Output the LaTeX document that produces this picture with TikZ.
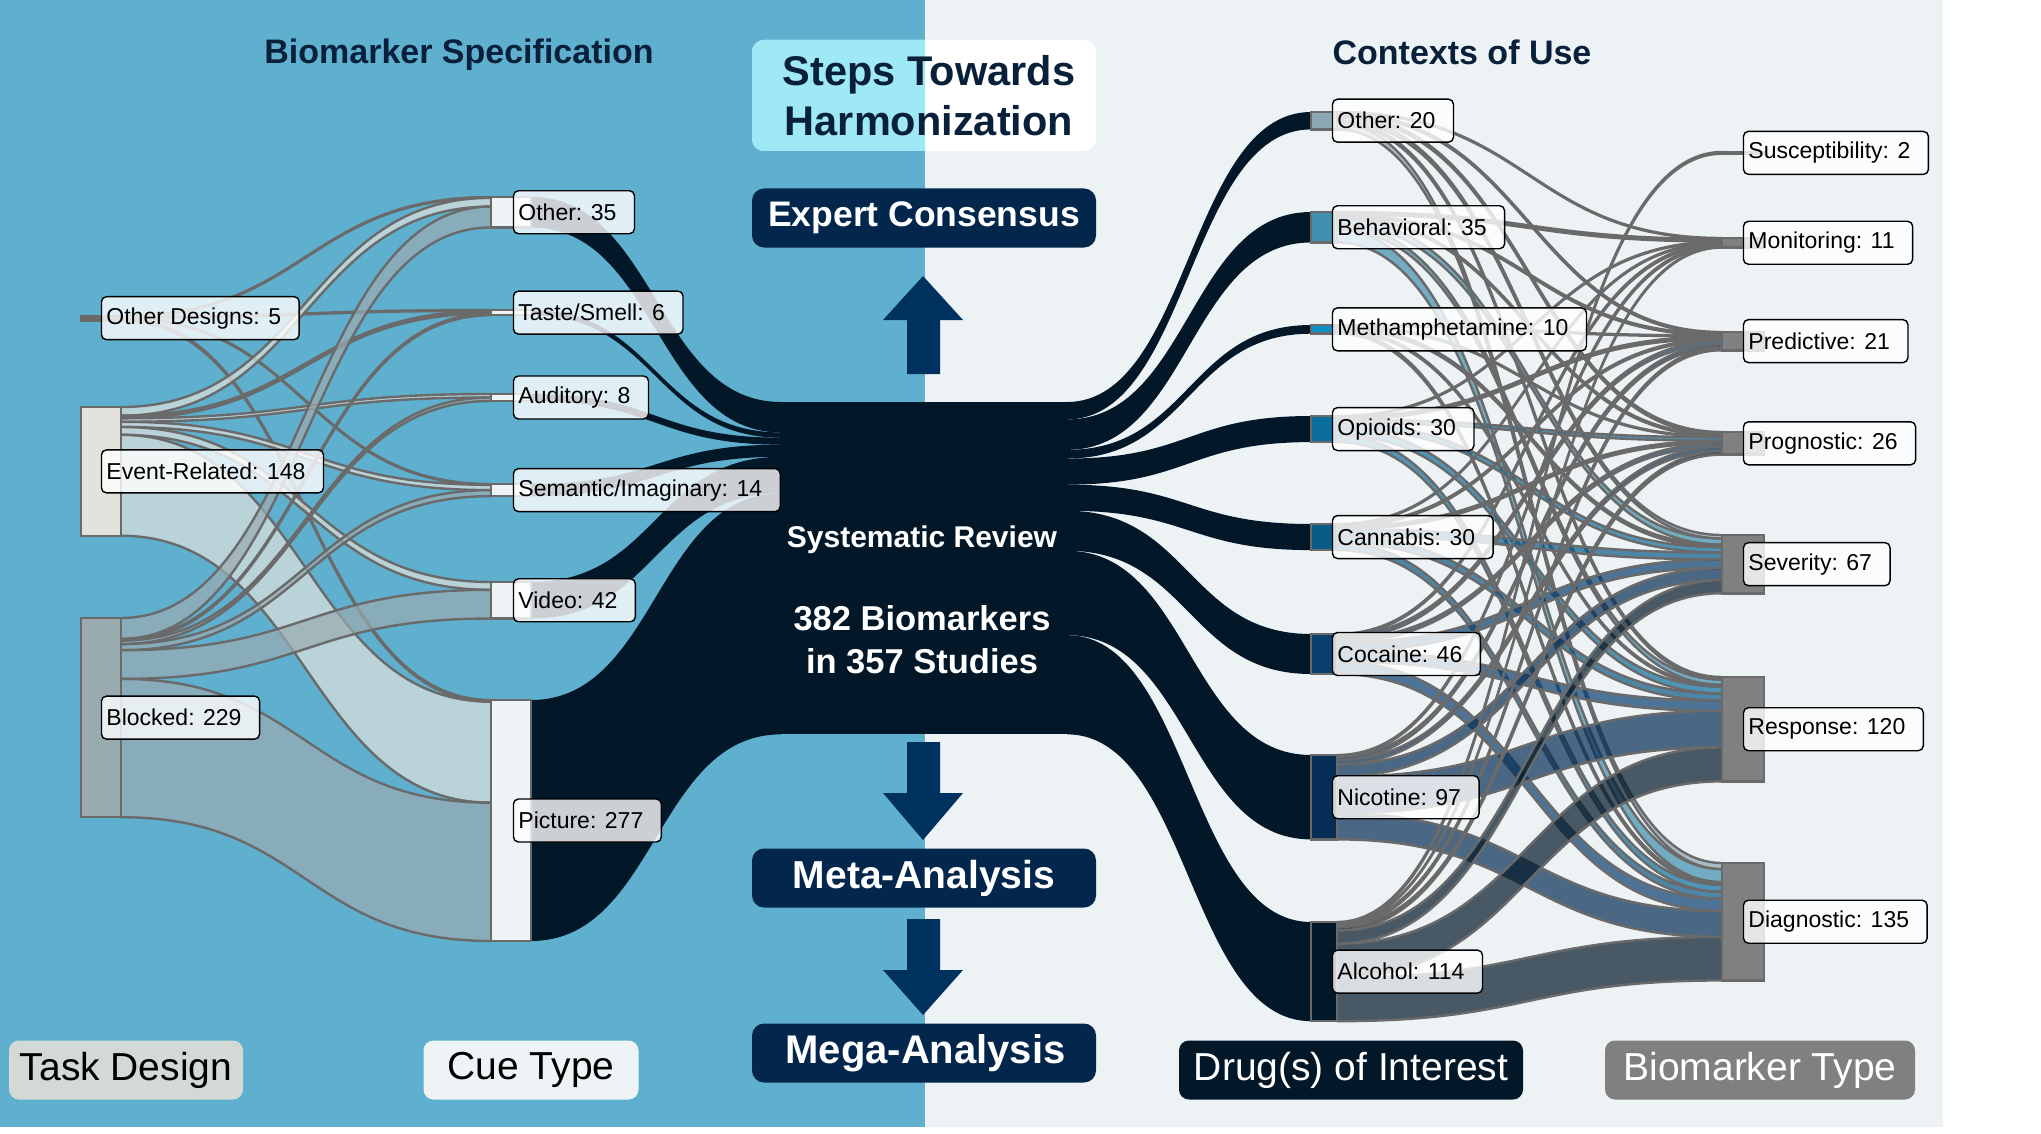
\documentclass[tikz,border=0pt]{standalone}
\usepackage{fontspec}
\setmainfont{Liberation Sans}
\usetikzlibrary{positioning}

\definecolor{bgblue}{HTML}{5FB0CF}
\definecolor{bglight}{HTML}{EDF2F5}
\definecolor{navy}{HTML}{021829}
\definecolor{arrowblue}{HTML}{00325F}
\definecolor{boxblue}{HTML}{03274C}
\definecolor{titleblue}{HTML}{08203A}
\definecolor{stepcyan}{HTML}{9FE8F5}
\definecolor{edgegray}{HTML}{6A6A6A}
\definecolor{barerel}{HTML}{E2E3DD}
\definecolor{barblock}{HTML}{9AABB0}
\definecolor{barcue}{HTML}{EEF3F5}
\definecolor{taskgray}{HTML}{D3DAD6}
\definecolor{drugoth}{HTML}{8EA7B4}
\definecolor{drugbeh}{HTML}{3F8FAE}
\definecolor{drugmeth}{HTML}{0E93C9}
\definecolor{drugopi}{HTML}{0B6E9E}
\definecolor{drugcan}{HTML}{0A5A88}
\definecolor{drugcoc}{HTML}{0A3F70}
\definecolor{drugnic}{HTML}{062D55}
\definecolor{drugalc}{HTML}{021829}
\definecolor{typegray}{HTML}{808080}

% node columns: name/top/value/colour
\def\tasklist{od/316/5/edgegray, er/407/148/barerel, bl/618/229/barblock}
\def\cuelist{coth/197/35/barcue, ctas/310/6/barcue, caud/394/8/barcue, csem/484/14/barcue, cvid/582/42/barcue, cpic/700/277/barcue}
\def\druglist{doth/112/20/drugoth, dbeh/212/35/drugbeh, dmet/325/10/drugmeth, dopi/416/30/drugopi, dcan/524/30/drugcan, dcoc/634/46/drugcoc, dnic/755/97/drugnic, dalc/922/114/drugalc}
\def\typelist{tsus/152/2/typegray, tmon/238/11/typegray, tpre/332/21/typegray, tpro/432/26/typegray, tsev/535/67/typegray, tres/677/120/typegray, tdia/863/135/typegray}

\newcommand\settop[2]{\expandafter\xdef\csname sk-#1\endcsname{#2}}
\newcommand\gettop[1]{\csname sk-#1\endcsname}

% band from (x1,y1) to (x2,y2), width w
\newcommand\skband[6]{%
  \pgfmathsetmacro\bxm{(#1+#3)/2}%
  \pgfmathsetmacro\bya{#2+#5}%
  \pgfmathsetmacro\byb{#4+#5}%
  \fill[#6] (#1,#2) .. controls (\bxm,#2) and (\bxm,#4) .. (#3,#4)
    -- (#3,\byb) .. controls (\bxm,\byb) and (\bxm,\bya) .. (#1,\bya) -- cycle;}
\newcommand\skedge[5]{%
  \pgfmathsetmacro\bxm{(#1+#3)/2}%
  \pgfmathsetmacro\bya{#2+#5}%
  \pgfmathsetmacro\byb{#4+#5}%
  \draw[linkline] (#1,#2) .. controls (\bxm,#2) and (\bxm,#4) .. (#3,#4)
    (#1,\bya) .. controls (\bxm,\bya) and (\bxm,\byb) .. (#3,\byb);}

\begin{document}
\begin{tikzpicture}[x=1pt, y=-1pt,
    tag/.style={draw=black, line width=1.4pt, rounded corners=5pt, fill=white,
      fill opacity=0.8, text opacity=1, minimum height=43pt, inner xsep=5pt,
      font=\fontsize{23}{27}\selectfont, execute at end node=\kern13pt},
    bar/.style={draw=edgegray, line width=2.5pt, inner sep=0pt, minimum width=#1},
    linkline/.style={draw=edgegray, line width=2.4pt},
    stepbox/.style={fill=boxblue, rounded corners=12pt, minimum width=344pt,
      minimum height=59pt, text=white, font=\bfseries\fontsize{35.5}{40}\selectfont},
    axisbox/.style={rounded corners=10pt, minimum height=59pt,
      font=\fontsize{39}{44}\selectfont},
    heading/.style={text=titleblue, font=\bfseries\fontsize{34}{40}\selectfont, anchor=base}]

  \useasboundingbox (0,0) rectangle (2041,1134);
  \fill[white] (0,0) rectangle (2041,1134);
  \fill[bgblue] (0,0) rectangle (925,1127);
  \fill[bglight] (925,0) rectangle (1943,1127);

  % stacking tops
  \foreach \nm/\tp/\val/\col in \tasklist {\settop{\nm}{\tp}}
  \foreach \nm/\tp/\val/\col in \cuelist {\settop{\nm}{\tp}}
  \foreach \nm/\tp/\val/\col in \druglist {\settop{\nm}{\tp}}
  \foreach \nm/\tp/\val/\col in \typelist {\settop{\nm}{\tp}}

  % task design -> cue type
  \foreach \src/\tgt/\val/\col in {od/coth/1/edgegray, od/ctas/1/edgegray, od/csem/1/edgegray, od/cpic/2/edgegray,
      er/coth/10/barerel, er/ctas/3/barerel, er/caud/4/barerel, er/csem/6/barerel, er/cvid/9/barerel, er/cpic/116/barerel,
      bl/coth/24/barblock, bl/ctas/2/barblock, bl/caud/4/barblock, bl/csem/7/barblock, bl/cvid/33/barblock, bl/cpic/159/barblock}{
    \pgfmathsetmacro\ya{\gettop{\src}}
    \pgfmathsetmacro\yb{\gettop{\tgt}}
    \pgfmathsetmacro\bw{\val*0.87}
    \skband{121}{\ya}{491}{\yb}{\bw}{fill=\col, fill opacity=0.7}
    \skedge{121}{\ya}{491}{\yb}{\bw}
    \pgfmathsetmacro\ya{\ya+\bw}\settop{\src}{\ya}
    \pgfmathsetmacro\yb{\yb+\bw}\settop{\tgt}{\yb}
  }

  % cue type -> systematic review -> drug
  \settop{cl}{402}
  \foreach \nm/\tp/\val/\col in \cuelist{
    \pgfmathsetmacro\yb{\gettop{cl}}
    \pgfmathsetmacro\bw{\val*0.87}
    \skband{531}{\tp}{781}{\yb}{\bw}{navy}
    \pgfmathsetmacro\yb{\yb+\bw}\settop{cl}{\yb}
  }
  \fill[navy] (780,402) rectangle (1068,734.4);
  \settop{cr}{402}
  \foreach \nm/\tp/\val/\col in \druglist{
    \pgfmathsetmacro\ya{\gettop{cr}}
    \pgfmathsetmacro\bw{\val*0.87}
    \skband{1067}{\ya}{1311}{\tp}{\bw}{navy}
    \pgfmathsetmacro\ya{\ya+\bw}\settop{cr}{\ya}
  }

  % drug -> biomarker type
  \foreach \src/\tgt/\val/\col in {doth/tmon/1/drugoth, doth/tpre/2/drugoth, doth/tpro/3/drugoth, doth/tsev/4/drugoth, doth/tres/3/drugoth, doth/tdia/7/drugoth,
      dbeh/tmon/3/drugbeh, dbeh/tpre/2/drugbeh, dbeh/tpro/2/drugbeh, dbeh/tsev/7/drugbeh, dbeh/tres/6/drugbeh, dbeh/tdia/15/drugbeh,
      dmet/tpre/1/drugmeth, dmet/tpro/1/drugmeth, dmet/tsev/3/drugmeth, dmet/tres/2/drugmeth, dmet/tdia/3/drugmeth,
      dopi/tmon/1/drugopi, dopi/tpre/3/drugopi, dopi/tpro/4/drugopi, dopi/tsev/6/drugopi, dopi/tres/8/drugopi, dopi/tdia/8/drugopi,
      dcan/tmon/1/drugcan, dcan/tpre/2/drugcan, dcan/tpro/3/drugcan, dcan/tsev/8/drugcan, dcan/tres/8/drugcan, dcan/tdia/8/drugcan,
      dcoc/tmon/2/drugcoc, dcoc/tpre/4/drugcoc, dcoc/tpro/4/drugcoc, dcoc/tsev/10/drugcoc, dcoc/tres/12/drugcoc, dcoc/tdia/14/drugcoc,
      dnic/tmon/2/drugnic, dnic/tpre/4/drugnic, dnic/tpro/5/drugnic, dnic/tsev/14/drugnic, dnic/tres/42/drugnic, dnic/tdia/30/drugnic,
      dalc/tsus/2/drugalc, dalc/tmon/1/drugalc, dalc/tpre/3/drugalc, dalc/tpro/4/drugalc, dalc/tsev/15/drugalc, dalc/tres/39/drugalc, dalc/tdia/50/drugalc}{
    \pgfmathsetmacro\ya{\gettop{\src}}
    \pgfmathsetmacro\yb{\gettop{\tgt}}
    \pgfmathsetmacro\bw{\val*0.87}
    \skband{1337}{\ya}{1722}{\yb}{\bw}{fill=\col, fill opacity=0.7}
    \skedge{1337}{\ya}{1722}{\yb}{\bw}
    \pgfmathsetmacro\ya{\ya+\bw}\settop{\src}{\ya}
    \pgfmathsetmacro\yb{\yb+\bw}\settop{\tgt}{\yb}
  }

  % bars
  \foreach \nm/\tp/\val/\col in \tasklist
    \node[bar=40, fill=\col, minimum height=\val*0.87pt] (\nm) at (101,\tp+\val*0.435) {};
  \foreach \nm/\tp/\val/\col in \cuelist
    \node[bar=40, fill=\col, minimum height=\val*0.87pt] (\nm) at (511,\tp+\val*0.435) {};
  \foreach \nm/\tp/\val/\col in \druglist
    \node[bar=26, fill=\col, minimum height=\val*0.87pt] (\nm) at (1324,\tp+\val*0.435) {};
  \foreach \nm/\tp/\val/\col in \typelist
    \node[bar=42, fill=\col, minimum height=\val*0.87pt] (\nm) at (1743,\tp+\val*0.435) {};

  % labels
  \node[tag, right=21pt of od.west] (l-od) {Other Designs: 5};
  \node[tag, right=21pt of er.west] (l-er) {Event-Related: 148};
  \node[tag, right=21pt of bl.west] (l-bl) {Blocked: 229};
  \node[tag, right=23pt of coth.west] (l-coth) {Other: 35};
  \node[tag, right=23pt of ctas.west] (l-ctas) {Taste/Smell: 6};
  \node[tag, right=23pt of caud.west] (l-caud) {Auditory: 8};
  \node[tag, right=23pt of csem.west] (l-csem) {Semantic/Imaginary: 14};
  \node[tag, right=23pt of cvid.west] (l-cvid) {Video: 42};
  \node[tag, right=23pt of cpic.west] (l-cpic) {Picture: 277};
  \node[tag, right=22pt of doth.west] (l-doth) {Other: 20};
  \node[tag, right=22pt of dbeh.west] (l-dbeh) {Behavioral: 35};
  \node[tag, right=22pt of dmet.west] (l-dmet) {Methamphetamine: 10};
  \node[tag, right=22pt of dopi.west] (l-dopi) {Opioids: 30};
  \node[tag, right=22pt of dcan.west] (l-dcan) {Cannabis: 30};
  \node[tag, right=22pt of dcoc.west] (l-dcoc) {Cocaine: 46};
  \node[tag, right=22pt of dnic.west] (l-dnic) {Nicotine: 97};
  \node[tag, right=22pt of dalc.west] (l-dalc) {Alcohol: 114};
  \node[tag, right=22pt of tsus.west] (l-tsus) {Susceptibility: 2};
  \node[tag, right=22pt of tmon.west] (l-tmon) {Monitoring: 11};
  \node[tag, right=22pt of tpre.west] (l-tpre) {Predictive: 21};
  \node[tag, right=22pt of tpro.west] (l-tpro) {Prognostic: 26};
  \node[tag, right=22pt of tsev.west] (l-tsev) {Severity: 67};
  \node[tag, right=22pt of tres.west] (l-tres) {Response: 120};
  \node[tag, right=22pt of tdia.west] (l-tdia) {Diagnostic: 135};

  % centre column
  \node[text=white, font=\bfseries\fontsize{30}{36}\selectfont, anchor=base] (sysrev) at (922,547) {Systematic Review};
  \node[text=white, align=center, font=\bfseries\fontsize{34.5}{43}\selectfont] (count) at (922,640) {382 Biomarkers\\in 357 Studies};

  \fill[white, rounded corners=12pt] (752,40) rectangle (1096,151);
  \begin{scope}
    \clip (752,40) rectangle (925,151);
    \fill[stepcyan, rounded corners=12pt] (752,40) rectangle (1096,151);
  \end{scope}
  \node[text=titleblue, align=center, font=\bfseries\fontsize{41.5}{50}\selectfont] (steps) at (929,96) {Steps Towards\\Harmonization};

  \node[stepbox] (expert) at (924,218) {Expert Consensus};
  \node[stepbox, font=\bfseries\fontsize{39}{44}\selectfont] (meta) at (924,878) {Meta-Analysis};
  \node[stepbox, font=\bfseries\fontsize{40}{44}\selectfont] (mega) at (924,1053) {\hspace*{3pt}Mega-Analysis};

  \fill[arrowblue] (907,374) -- (907,320) -- (883,320) -- (923,276) -- (963,320) -- (940,320) -- (940,374) -- cycle;
  \fill[arrowblue] (907,742) -- (907,793) -- (883,793) -- (923,840) -- (963,793) -- (940,793) -- (940,742) -- cycle;
  \fill[arrowblue] (907,919) -- (907,970) -- (883,970) -- (923,1015) -- (963,970) -- (940,970) -- (940,919) -- cycle;

  % headings and axis boxes
  \node[heading] (spec) at (459,64) {Biomarker Specification};
  \node[heading] (ctx) at (1462,65) {Contexts of Use};

  \node[axisbox, fill=taskgray, minimum width=234pt] (ax-task) at (126,1070) {Task Design};
  \node[axisbox, fill=barcue, minimum width=215pt] (ax-cue) at (531,1070) {Cue Type};
  \node[axisbox, fill=navy, text=white, minimum width=344pt] (ax-drug) at (1351,1070) {Drug(s) of Interest};
  \node[axisbox, fill=typegray, text=white, minimum width=310pt] (ax-type) at (1760,1070) {Biomarker Type};
\end{tikzpicture}
\end{document}
